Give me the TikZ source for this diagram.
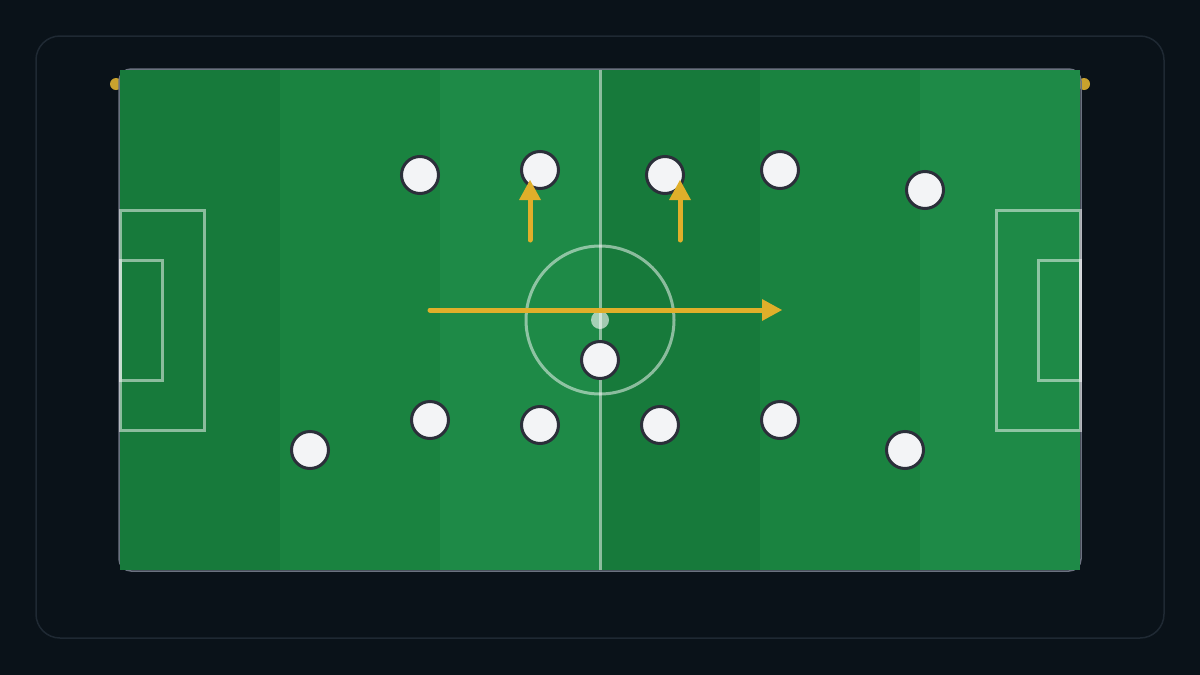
\documentclass[tikz,border=0pt]{standalone}
\usetikzlibrary{arrows.meta}

\definecolor{bgdark}{HTML}{0A1219}
\definecolor{framecol}{HTML}{1F2933}
\definecolor{edgecol}{HTML}{6B7280}
\definecolor{stripeA}{HTML}{177A3B}
\definecolor{stripeB}{HTML}{1A8340}
\definecolor{stripeC}{HTML}{1E8A47}
\definecolor{runcol}{HTML}{E0AF2A}
\definecolor{pincol}{HTML}{C9A22E}
\definecolor{shirt}{HTML}{F3F4F6}
\definecolor{rim}{HTML}{2B2F3A}

\begin{document}
\begin{tikzpicture}[
x=1pt,y=-1pt,
pitchline/.style={draw=white,draw opacity=0.5,line width=3pt},
player/.style={circle,draw=rim,fill=shirt,line width=3pt,minimum size=37pt,inner sep=0pt},
run/.style={draw=runcol,line width=5pt,line cap=round,-{Triangle[length=20pt,width=22pt,line width=0pt,sharp]}},
pin/.style={fill=pincol},
]
\useasboundingbox[fill=bgdark](0,0) rectangle (1200,675);
\draw[framecol,line width=1.5pt,rounded corners=24pt](36,36) rectangle (1164,638);

%Pitch
\fill[pin](116,84) circle (6pt);
\fill[pin](1084,84) circle (6pt);
\draw[edgecol,line width=1.5pt,rounded corners=12pt](119,69) rectangle (1081,571);
\foreach \i/\c in {0/stripeA,1/stripeB,2/stripeC,3/stripeA,4/stripeB,5/stripeC}
  \fill[\c](120+160*\i,70) rectangle ++(160,500);

%Markings
\draw[pitchline](600,70) -- (600,570);
\draw[pitchline](600,320) circle (74pt);
\fill[white,opacity=0.6](600,320) circle (9pt);
\draw[pitchline](120,210) rectangle (204,430);
\draw[pitchline](120,260) rectangle (162,380);
\draw[pitchline](1080,210) rectangle (996,430);
\draw[pitchline](1080,260) rectangle (1038,380);

%Players
\node[player](p1)at(420,175){};
\node[player](p2)at(540,170){};
\node[player](p3)at(665,175){};
\node[player](p4)at(780,170){};
\node[player](p5)at(925,190){};
\node[player](p6)at(600,360){};
\node[player](p7)at(310,450){};
\node[player](p8)at(430,420){};
\node[player](p9)at(540,425){};
\node[player](p10)at(660,425){};
\node[player](p11)at(780,420){};
\node[player](p12)at(905,450){};

%Runs
\coordinate (runAfrom) at (530,240);
\coordinate (runAto) at (530,180);
\coordinate (runBfrom) at (680,240);
\coordinate (runBto) at (680,180);
\coordinate (passfrom) at (430,310);
\coordinate (passto) at (782,310);
\draw[run](runAfrom) -- (runAto);
\draw[run](runBfrom) -- (runBto);
\draw[run](passfrom) -- (passto);

\end{tikzpicture}
\end{document}
